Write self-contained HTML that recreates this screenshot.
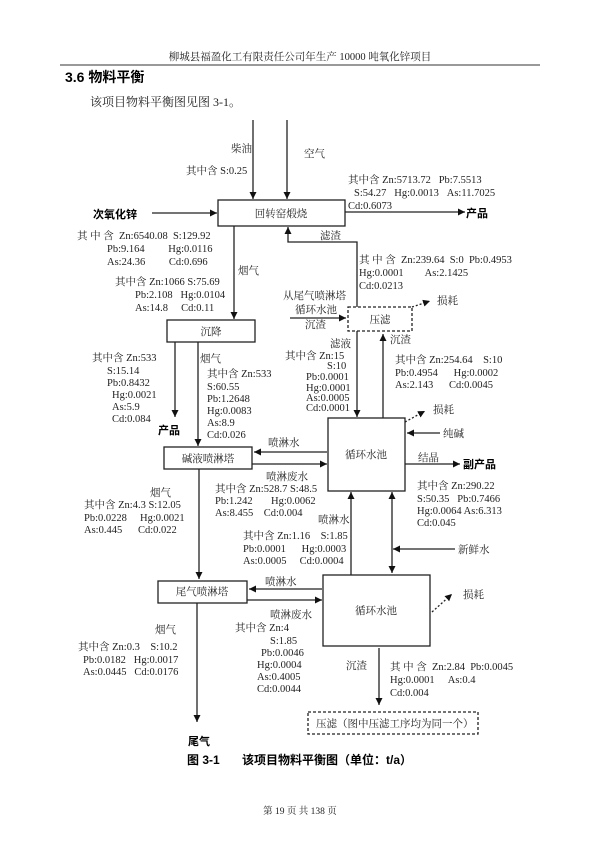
<!DOCTYPE html>
<html><head><meta charset="utf-8"><style>
html,body{margin:0;padding:0;background:#fff;}
svg{display:block;}
text{font-family:"Liberation Serif","Noto Serif CJK SC",serif;font-size:10.5px;fill:#222;}
.b{font-family:"Liberation Sans","Noto Sans CJK SC",sans-serif;font-weight:bold;font-size:11px;fill:#000;}
</style></head><body>
<svg width="600" height="848" viewBox="0 0 600 848" xmlns="http://www.w3.org/2000/svg">
<defs><marker id="a" markerWidth="8" markerHeight="8" refX="7" refY="3.5" orient="auto" markerUnits="userSpaceOnUse"><path d="M0,0 L7,3.5 L0,7 z" fill="#111"/></marker></defs>
<text x="300" y="60" text-anchor="middle" style="font-size:10.5px">柳城县福盈化工有限责任公司年生产 10000 吨氧化锌项目</text>
<line x1="60" y1="65" x2="540" y2="65" stroke="#333" stroke-width="1"/>
<text x="65" y="82" class="b" style="font-size:14px">3.6 物料平衡</text>
<text x="90" y="106" style="font-size:12px">该项目物料平衡图见图 3-1。</text>

<g stroke="#222" stroke-width="1.3" fill="none">
<line x1="253" y1="120" x2="253" y2="199" marker-end="url(#a)"/>
<line x1="287" y1="120" x2="287" y2="199" marker-end="url(#a)"/>
<rect x="218" y="200" width="127" height="26"/>
<line x1="152" y1="213" x2="217" y2="213" marker-end="url(#a)"/>
<line x1="345" y1="212" x2="465" y2="212" marker-end="url(#a)"/>
<line x1="234" y1="226" x2="234" y2="319" marker-end="url(#a)"/>
<polyline points="357,307 357,242 288,242 288,227" marker-end="url(#a)"/>
<rect x="348" y="307" width="64" height="24" stroke-dasharray="3,2"/>
<line x1="290" y1="318" x2="346" y2="318" marker-end="url(#a)"/>
<line x1="412" y1="307" x2="430" y2="301" stroke-dasharray="2,2" marker-end="url(#a)"/>
<rect x="167" y="320" width="88" height="22"/>
<line x1="357" y1="331" x2="357" y2="417" marker-end="url(#a)"/>
<line x1="383" y1="418" x2="383" y2="334" marker-end="url(#a)"/>
<line x1="175" y1="342" x2="175" y2="417" marker-end="url(#a)"/>
<line x1="198" y1="342" x2="198" y2="446" marker-end="url(#a)"/>
<rect x="328" y="418" width="77" height="73"/>
<line x1="405" y1="422" x2="425" y2="411" stroke-dasharray="2,2" marker-end="url(#a)"/>
<line x1="440" y1="433" x2="407" y2="433" marker-end="url(#a)"/>
<line x1="405" y1="464" x2="460" y2="464" marker-end="url(#a)"/>
<rect x="164" y="447" width="88" height="22"/>
<line x1="327" y1="452" x2="254" y2="452" marker-end="url(#a)"/>
<line x1="252" y1="464" x2="327" y2="464" marker-end="url(#a)"/>
<line x1="199" y1="469" x2="199" y2="579" marker-end="url(#a)"/>
<line x1="351" y1="575" x2="351" y2="492" marker-end="url(#a)"/>
<line x1="392" y1="520" x2="392" y2="492" marker-end="url(#a)"/>
<line x1="392" y1="520" x2="392" y2="573" marker-end="url(#a)"/>
<line x1="455" y1="549" x2="393" y2="549" marker-end="url(#a)"/>
<rect x="158" y="581" width="89" height="22"/>
<rect x="323" y="575" width="107" height="71"/>
<line x1="322" y1="589" x2="249" y2="589" marker-end="url(#a)"/>
<line x1="247" y1="600" x2="322" y2="600" marker-end="url(#a)"/>
<line x1="432" y1="612" x2="452" y2="594" stroke-dasharray="2,2" marker-end="url(#a)"/>
<line x1="197" y1="603" x2="197" y2="722" marker-end="url(#a)"/>
<line x1="379" y1="648" x2="379" y2="705" marker-end="url(#a)"/>
<rect x="308" y="712" width="170" height="22" stroke-dasharray="3,2"/>
</g>

<text x="231" y="152">柴油</text>
<text x="186" y="174">其中含 S:0.25</text>
<text x="304" y="157">空气</text>
<text x="281" y="217" text-anchor="middle">回转窑煅烧</text>
<text x="93" y="218" class="b">次氧化锌</text>
<text x="466" y="217" class="b">产品</text>
<text x="348" y="183">其中含 Zn:5713.72&#160;&#160;&#160;Pb:7.5513</text>
<text x="354" y="196">S:54.27&#160;&#160;&#160;Hg:0.0013&#160;&#160;&#160;As:11.7025</text>
<text x="348" y="209">Cd:0.6073</text>
<text x="77" y="239">其 中 含&#160;&#160;Zn:6540.08&#160;&#160;S:129.92</text>
<text x="107" y="252">Pb:9.164&#160;&#160;&#160;&#160;&#160;&#160;&#160;&#160;&#160;Hg:0.0116</text>
<text x="107" y="265">As:24.36&#160;&#160;&#160;&#160;&#160;&#160;&#160;&#160;&#160;Cd:0.696</text>
<text x="320" y="239">滤渣</text>
<text x="238" y="274">烟气</text>
<text x="115" y="285">其中含 Zn:1066 S:75.69</text>
<text x="135" y="298">Pb:2.108&#160;&#160;&#160;Hg:0.0104</text>
<text x="135" y="311">As:14.8&#160;&#160;&#160;&#160;&#160;Cd:0.11</text>
<text x="359" y="263">其 中 含&#160;&#160;Zn:239.64&#160;&#160;S:0&#160;&#160;Pb:0.4953</text>
<text x="359" y="276">Hg:0.0001&#160;&#160;&#160;&#160;&#160;&#160;&#160;&#160;As:2.1425</text>
<text x="359" y="289">Cd:0.0213</text>
<text x="283" y="299">从尾气喷淋塔</text>
<text x="295" y="313">循环水池</text>
<text x="305" y="328">沉渣</text>
<text x="380" y="323" text-anchor="middle">压滤</text>
<text x="437" y="304">损耗</text>
<text x="211" y="335" text-anchor="middle">沉降</text>
<text x="330" y="347">滤液</text>
<text x="390" y="343">沉渣</text>
<text x="285" y="359">其中含 Zn:15</text>
<text x="327" y="369">S:10</text>
<text x="306" y="380">Pb:0.0001</text>
<text x="306" y="391">Hg:0.0001</text>
<text x="306" y="401">As:0.0005</text>
<text x="306" y="411">Cd:0.0001</text>
<text x="395" y="363">其中含 Zn:254.64&#160;&#160;&#160;&#160;S:10</text>
<text x="395" y="376">Pb:0.4954&#160;&#160;&#160;&#160;&#160;&#160;Hg:0.0002</text>
<text x="395" y="388">As:2.143&#160;&#160;&#160;&#160;&#160;&#160;Cd:0.0045</text>
<text x="92" y="361">其中含 Zn:533</text>
<text x="107" y="374">S:15.14</text>
<text x="107" y="386">Pb:0.8432</text>
<text x="112" y="398">Hg:0.0021</text>
<text x="112" y="410">As:5.9</text>
<text x="112" y="422">Cd:0.084</text>
<text x="158" y="434" class="b">产品</text>
<text x="200" y="362">烟气</text>
<text x="207" y="377">其中含 Zn:533</text>
<text x="207" y="390">S:60.55</text>
<text x="207" y="402">Pb:1.2648</text>
<text x="207" y="414">Hg:0.0083</text>
<text x="207" y="426">As:8.9</text>
<text x="207" y="438">Cd:0.026</text>
<text x="433" y="413">损耗</text>
<text x="443" y="437">纯碱</text>
<text x="268" y="446">喷淋水</text>
<text x="366" y="458" text-anchor="middle">循环水池</text>
<text x="208" y="462" text-anchor="middle">碱液喷淋塔</text>
<text x="418" y="461">结晶</text>
<text x="463" y="468" class="b">副产品</text>
<text x="266" y="480">喷淋废水</text>
<text x="215" y="492">其中含 Zn:528.7 S:48.5</text>
<text x="215" y="504">Pb:1.242&#160;&#160;&#160;&#160;&#160;&#160;&#160;Hg:0.0062</text>
<text x="215" y="516">As:8.455&#160;&#160;&#160;&#160;Cd:0.004</text>
<text x="417" y="489">其中含 Zn:290.22</text>
<text x="417" y="502">S:50.35&#160;&#160;&#160;Pb:0.7466</text>
<text x="417" y="514">Hg:0.0064 As:6.313</text>
<text x="417" y="526">Cd:0.045</text>
<text x="150" y="496">烟气</text>
<text x="84" y="508">其中含 Zn:4.3 S:12.05</text>
<text x="84" y="521">Pb:0.0228&#160;&#160;&#160;&#160;&#160;Hg:0.0021</text>
<text x="84" y="533">As:0.445&#160;&#160;&#160;&#160;&#160;&#160;Cd:0.022</text>
<text x="318" y="523">喷淋水</text>
<text x="243" y="539">其中含 Zn:1.16&#160;&#160;&#160;&#160;S:1.85</text>
<text x="243" y="552">Pb:0.0001&#160;&#160;&#160;&#160;&#160;&#160;Hg:0.0003</text>
<text x="243" y="564">As:0.0005&#160;&#160;&#160;&#160;&#160;Cd:0.0004</text>
<text x="458" y="553">新鲜水</text>
<text x="265" y="585">喷淋水</text>
<text x="202" y="595" text-anchor="middle">尾气喷淋塔</text>
<text x="376" y="614" text-anchor="middle">循环水池</text>
<text x="463" y="598">损耗</text>
<text x="270" y="618">喷淋废水</text>
<text x="235" y="631">其中含 Zn:4</text>
<text x="270" y="644">S:1.85</text>
<text x="261" y="656">Pb:0.0046</text>
<text x="257" y="668">Hg:0.0004</text>
<text x="257" y="680">As:0.4005</text>
<text x="257" y="692">Cd:0.0044</text>
<text x="155" y="633">烟气</text>
<text x="78" y="650">其中含 Zn:0.3&#160;&#160;&#160;&#160;S:10.2</text>
<text x="83" y="663">Pb:0.0182&#160;&#160;&#160;Hg:0.0017</text>
<text x="83" y="675">As:0.0445&#160;&#160;&#160;Cd:0.0176</text>
<text x="346" y="669">沉渣</text>
<text x="390" y="670">其 中 含&#160;&#160;Zn:2.84&#160;&#160;Pb:0.0045</text>
<text x="390" y="683">Hg:0.0001&#160;&#160;&#160;&#160;&#160;As:0.4</text>
<text x="390" y="696">Cd:0.004</text>
<text x="316" y="727">压滤（图中压滤工序均为同一个）</text>
<text x="188" y="745" class="b">尾气</text>
<text x="187" y="764" class="b" style="font-size:12px">图 3-1</text>
<text x="242" y="764" class="b" style="font-size:12px">该项目物料平衡图（单位：t/a）</text>
<text x="300" y="814" text-anchor="middle" style="font-size:9.5px">第 19 页 共 138 页</text>
</svg>
</body></html>
